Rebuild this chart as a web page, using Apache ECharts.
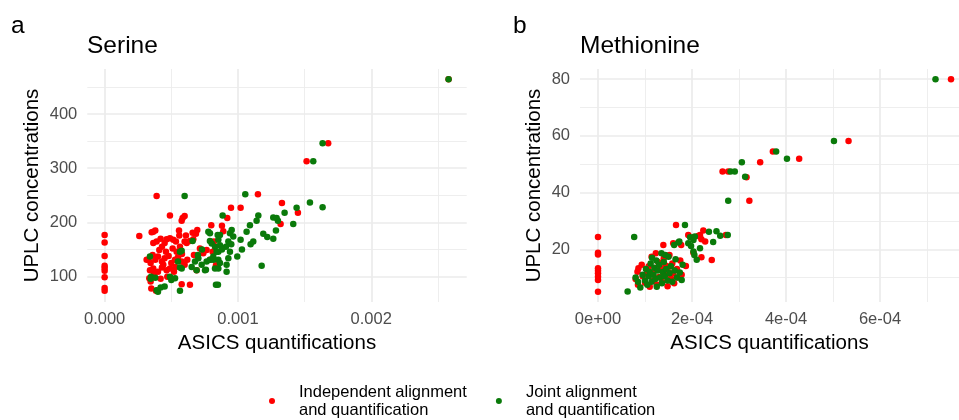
<!DOCTYPE html>
<html>
<head>
<meta charset="utf-8">
<script src="https://cdn.jsdelivr.net/npm/echarts@6/dist/echarts.min.js"></script>
<style>
html,body{margin:0;padding:0;background:#fff;}
#chart{width:959px;height:420px;}
</style>
</head>
<body>
<div id="chart"></div>
<script>
// ---------- data ----------
const seriesNames = ['Independent alignment\nand quantification', 'Joint alignment\nand quantification'];
const panelLetters = ['a', 'b'];
const panelTitles = ['Serine', 'Methionine'];

// Serine: [ASICS quantification, UPLC concentration]
const serineIndependent = [
  [0,177],[0,163],[0,138],[0,120],[0,116],[0,111],[0,99],[0,79],[0,74],
  [0.00026,175],[0.000315,131],[0.00033,131],[0.00034,112],[0.000335,97],[0.000345,125],[0.000345,91],
  [0.00035,78],[0.000353,182],[0.000365,183],[0.000365,162],[0.000365,115],[0.00038,185],[0.00038,131],
  [0.000385,74],[0.00039,249],[0.00039,165],[0.0004,137],[0.0004,109],[0.00041,149],[0.00042,96],
  [0.00043,155],[0.00043,128],[0.00043,117],[0.00045,162],[0.00045,134],[0.000465,169],[0.000465,112],
  [0.00046,146],[0.00048,138],[0.00049,213],[0.00049,171],[0.00049,115],[0.0005,125],[0.000515,168],
  [0.00052,109],[0.000528,131],[0.000535,165],[0.00054,146],[0.00055,136],[0.000558,185],[0.000565,155],
  [0.000578,203],[0.000578,128],[0.000578,86],[0.000585,208],[0.0006,212],[0.0006,165],[0.0006,122],
  [0.000615,162],[0.00062,131],[0.00064,166],[0.00064,85],[0.000665,169],[0.000685,179],[0.00069,112],
  [0.000695,186],[0.000715,152],[0.00074,143],[0.000765,149],[0.00079,131],[0.0008,195],[0.00081,146],
  [0.00082,165],[0.000835,121],[0.00088,194],[0.00089,184],[0.00092,208],[0.000948,227],[0.00102,227],
  [0.00115,252],[0.00132,197],[0.00133,236],[0.00145,218],[0.001515,313],[0.001677,346],[0.00258,464],
  [0.00037,105],[0.00047,100],[0.00053,118],[0.00056,176],[0.00067,140],[0.00066,181],
  [0.00036,140],[0.00044,122],[0.00051,152],[0.00058,142],[0.00042,170],[0.00061,176]
];
const serineJoint = [
  [0.00034,137],[0.000348,100],[0.000345,96],[0.00039,75],[0.0004,72],[0.00045,82],[0.00049,100],[0.0005,94],
  [0.000528,97],[0.000565,74],[0.000565,117],[0.000565,146],[0.00055,128],[0.000578,148],[0.000578,115],
  [0.0006,249],[0.000653,118],[0.00066,166],[0.000678,128],[0.00069,112],[0.000703,134],[0.000728,122],
  [0.000753,112],[0.00076,113],[0.000765,128],[0.000778,183],[0.00079,166],[0.00079,180],[0.00079,131],
  [0.000803,161],[0.000815,131],[0.000815,137],[0.000828,155],[0.000828,115],[0.000835,85],[0.00085,85],
  [0.00084,146],[0.000848,177],[0.000853,168],[0.000853,146],[0.000853,131],[0.000853,115],[0.000865,177],
  [0.000865,158],[0.000865,125],[0.000885,213],[0.00091,155],[0.000915,122],[0.000915,109],[0.000928,165],
  [0.000928,134],[0.00094,180],[0.00094,146],[0.000953,186],[0.000965,174],[0.000995,137],[0.00102,168],
  [0.00103,150],[0.001055,252],[0.001065,183],[0.001095,160],[0.00109,195],[0.001115,165],[0.00114,203],
  [0.001153,213],[0.001178,120],[0.00119,179],[0.00122,173],[0.001265,209],[0.001265,170],[0.001285,185],
  [0.00129,208],[0.0013,203],[0.00135,218],[0.001415,197],[0.00144,227],[0.00154,237],[0.001565,313],
  [0.001635,346],[0.001635,228],[0.00258,464],
  [0.00038,98],[0.00042,80],[0.00073,150],[0.0007,140],[0.00088,150],[0.00095,160]
];

// Methionine: [ASICS quantification, UPLC concentration]
const methionineIndependent = [
  [0,24.3],[0,18.8],[0,18.2],[0,13.3],[0,12.4],[0,11.5],[0,10.3],[0,9.2],[0,5.0],
  [8.4e-5,12.1],[8.6e-5,13.3],[9.3e-5,14.5],[8.0e-5,9.5],[8.5e-5,7.5],[9.5e-5,10.5],[1.0e-4,8.2],
  [1.05e-4,11.5],[1.08e-4,14.0],[1.1e-4,6.8],[1.14e-4,17.4],[1.18e-4,9.0],[1.2e-4,12.5],[1.23e-4,18.6],
  [1.25e-4,7.5],[1.28e-4,15.5],[1.3e-4,10.2],[1.33e-4,13.5],[1.36e-4,8.5],[1.39e-4,21.5],[1.4e-4,16.8],
  [1.42e-4,11.0],[1.45e-4,14.2],[1.48e-4,7.0],[1.5e-4,12.0],[1.52e-4,18.0],[1.55e-4,9.8],[1.58e-4,15.0],
  [1.6e-4,22.1],[1.6e-4,11.5],[1.62e-4,8.0],[1.66e-4,28.6],[1.68e-4,13.0],[1.7e-4,10.0],[1.75e-4,16.0],
  [1.77e-4,21.5],[1.78e-4,11.0],[1.87e-4,14.1],[1.92e-4,25.0],[2.03e-4,24.2],[2.03e-4,18.8],[2.13e-4,24.7],
  [2.17e-4,25.0],[2.2e-4,23.5],[2.2e-4,17.2],[2.24e-4,26.6],[2.28e-4,22.7],[2.42e-4,16.2],[2.65e-4,47.4],
  [2.72e-4,25.0],[2.77e-4,47.4],[3.16e-4,45.4],[3.22e-4,37.1],[3.45e-4,50.7],[3.72e-4,54.5],[4.28e-4,51.9],
  [5.33e-4,58.2],[7.51e-4,80]
];
const methionineJoint = [
  [6.3e-5,5.1],[7.7e-5,24.3],[8.0e-5,10.0],[8.5e-5,8.5],[9.0e-5,6.5],[9.5e-5,11.0],[1.0e-4,9.0],
  [1.02e-4,13.0],[1.05e-4,7.5],[1.08e-4,10.5],[1.1e-4,12.0],[1.12e-4,15.0],[1.14e-4,8.5],[1.15e-4,17.0],
  [1.18e-4,11.0],[1.2e-4,13.5],[1.22e-4,9.5],[1.24e-4,16.0],[1.25e-4,6.8],[1.27e-4,12.5],[1.3e-4,14.5],
  [1.32e-4,10.0],[1.35e-4,18.6],[1.36e-4,8.0],[1.38e-4,12.0],[1.4e-4,15.5],[1.42e-4,10.5],[1.43e-4,18.0],
  [1.45e-4,13.0],[1.48e-4,9.0],[1.5e-4,17.4],[1.52e-4,11.5],[1.55e-4,14.0],[1.58e-4,8.5],[1.62e-4,21.5],
  [1.63e-4,12.5],[1.65e-4,16.5],[1.68e-4,10.0],[1.71e-4,22.4],[1.73e-4,22.7],[1.74e-4,11.8],[1.78e-4,9.2],
  [1.8e-4,14.5],[1.85e-4,28.6],[1.92e-4,22.1],[1.96e-4,24.2],[1.98e-4,21.2],[2.03e-4,19.2],[2.03e-4,23.3],
  [2.05e-4,18.0],[2.06e-4,24.5],[2.1e-4,16.3],[2.17e-4,20.4],[2.36e-4,26.2],[2.45e-4,22.6],[2.52e-4,26.4],
  [2.6e-4,24.8],[2.76e-4,25.0],[2.77e-4,37.1],[2.82e-4,47.4],[2.91e-4,47.4],[3.06e-4,50.7],[3.13e-4,45.6],
  [3.79e-4,54.5],[4.02e-4,51.9],[5.02e-4,58.2],[7.18e-4,80]
];

// axis ranges and ticks
const xRangeA = [-0.00013, 0.002716];
const yRangeA = [53.3, 483];
const xMajorA = [0, 0.001, 0.002];
const xMinorA = [0.0005, 0.0015, 0.0025];
const xLabelsA = ['0.000', '0.001', '0.002'];
const yMajorA = [100, 200, 300, 400];
const yMinorA = [150, 250, 350, 450];
const yLabelsA = ['100', '200', '300', '400'];

const xRangeB = [-3.83e-5, 7.68e-4];
const yRangeB = [1.4, 83.6];
const xMajorB = [0, 2e-4, 4e-4, 6e-4];
const xMinorB = [1e-4, 3e-4, 5e-4, 7e-4];
const xLabelsB = ['0e+00', '2e-04', '4e-04', '6e-04'];
const yMajorB = [20, 40, 60, 80];
const yMinorB = [10, 30, 50, 70];
const yLabelsB = ['20', '40', '60', '80'];

const xTitle = 'ASICS quantifications';
const yTitle = 'UPLC concentrations';

// ---------- styling ----------
const RED = '#FF0000';
const GREEN = '#0A7A0A';
const GRID = '#EBEBEB';
const FONT = 'Liberation Sans, Arial, sans-serif';

function labelFor(ticks, labels) {
  return function (v) {
    for (let i = 0; i < ticks.length; i++) {
      if (Math.abs(ticks[i] - v) < 1e-12) return labels[i];
    }
    return '';
  };
}

function xAxes(gi, range, major, minor, labels) {
  return [
    {
      gridIndex: gi, type: 'value', min: range[0], max: range[1], position: 'bottom',
      axisLine: { show: false }, axisTick: { show: false, customValues: major },
      axisLabel: { customValues: major, formatter: labelFor(major, labels), color: '#4D4D4D',
        fontSize: 16.5, fontFamily: FONT, margin: 9 },
      splitLine: { show: true, lineStyle: { color: GRID, width: 1.7 } },
      name: xTitle, nameLocation: 'middle', nameGap: 29,
      nameTextStyle: { color: '#000', fontSize: 20.5, fontFamily: FONT }
    },
    {
      gridIndex: gi, type: 'value', min: range[0], max: range[1], position: 'bottom',
      axisLine: { show: false }, axisTick: { show: false, customValues: minor },
      axisLabel: { show: false },
      splitLine: { show: true, lineStyle: { color: GRID, width: 0.85 } }
    }
  ];
}
function yAxes(gi, range, major, minor, labels, nameGap) {
  return [
    {
      gridIndex: gi, type: 'value', min: range[0], max: range[1], position: 'left',
      axisLine: { show: false }, axisTick: { show: false, customValues: major },
      axisLabel: { customValues: major, formatter: labelFor(major, labels), color: '#4D4D4D',
        fontSize: 16.5, fontFamily: FONT, margin: 10 },
      splitLine: { show: true, lineStyle: { color: GRID, width: 1.7 } },
      name: yTitle, nameLocation: 'middle', nameGap: nameGap,
      nameTextStyle: { color: '#000', fontSize: 20.5, fontFamily: FONT }
    },
    {
      gridIndex: gi, type: 'value', min: range[0], max: range[1], position: 'left',
      axisLine: { show: false }, axisTick: { show: false, customValues: minor },
      axisLabel: { show: false },
      splitLine: { show: true, lineStyle: { color: GRID, width: 0.85 } }
    }
  ];
}

function scatter(name, data, color, xi, yi) {
  return {
    name: name, type: 'scatter', data: data, xAxisIndex: xi, yAxisIndex: yi,
    symbol: 'circle', symbolSize: 6.5, itemStyle: { color: color, opacity: 1 },
    emphasis: { disabled: true }, silent: true
  };
}

const chart = echarts.init(document.getElementById('chart'), null, { renderer: 'canvas' });
chart.setOption({
  animation: false,
  backgroundColor: '#ffffff',
  textStyle: { fontFamily: FONT },
  title: [
    { text: panelLetters[0], left: 11, top: 14, textStyle: { fontSize: 24.5, fontWeight: 'normal', color: '#000', fontFamily: FONT }, padding: 0 },
    { text: panelTitles[0], left: 87, top: 34, textStyle: { fontSize: 24.5, fontWeight: 'normal', color: '#000', fontFamily: FONT }, padding: 0 },
    { text: panelLetters[1], left: 513, top: 14, textStyle: { fontSize: 24.5, fontWeight: 'normal', color: '#000', fontFamily: FONT }, padding: 0 },
    { text: panelTitles[1], left: 580, top: 34, textStyle: { fontSize: 24.5, fontWeight: 'normal', color: '#000', fontFamily: FONT }, padding: 0 }
  ],
  legend: {
    data: seriesNames, left: 269, top: 383, orient: 'horizontal', padding: 0,
    icon: 'circle', itemWidth: 44, itemHeight: 6, itemGap: 29,
    textStyle: { fontSize: 16.5, lineHeight: 18, color: '#000', fontFamily: FONT },
    selectedMode: false
  },
  grid: [
    { left: 87.3, top: 69, width: 379.4, height: 233 },
    { left: 580, top: 69, width: 379, height: 233 }
  ],
  xAxis: [].concat(
    xAxes(0, xRangeA, xMajorA, xMinorA, xLabelsA),
    xAxes(1, xRangeB, xMajorB, xMinorB, xLabelsB)
  ),
  yAxis: [].concat(
    yAxes(0, yRangeA, yMajorA, yMinorA, yLabelsA, 44),
    yAxes(1, yRangeB, yMajorB, yMinorB, yLabelsB, 35)
  ),
  series: [
    scatter(seriesNames[0], serineIndependent, RED, 0, 0),
    scatter(seriesNames[1], serineJoint, GREEN, 0, 0),
    scatter(seriesNames[0], methionineIndependent, RED, 2, 2),
    scatter(seriesNames[1], methionineJoint, GREEN, 2, 2)
  ]
});
</script>
</body>
</html>
